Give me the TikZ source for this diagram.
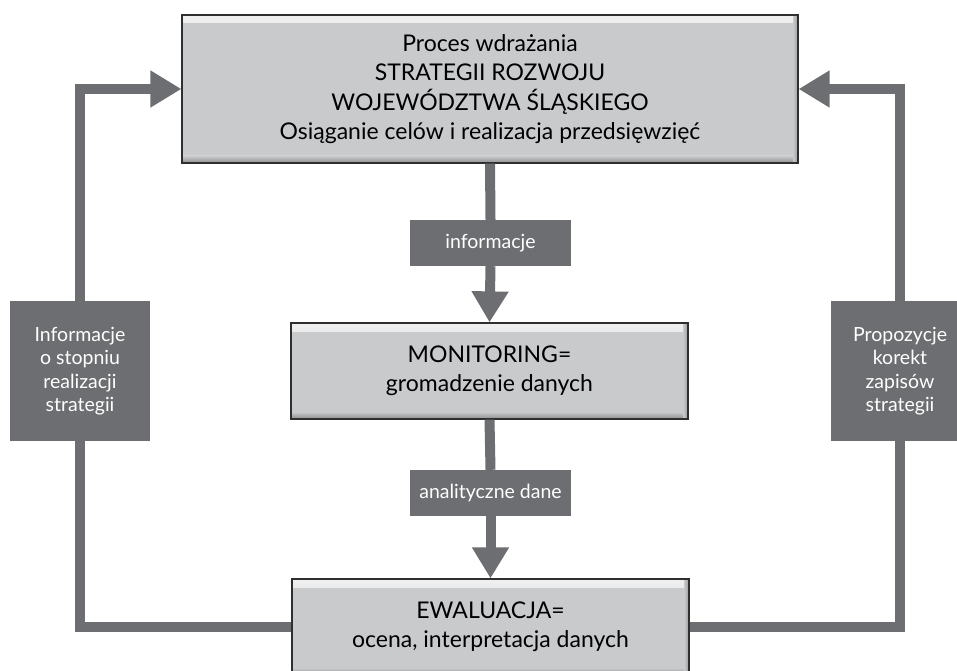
\documentclass[tikz,border=0pt]{standalone}
\usepackage{fontspec}
\setmainfont{Lato}
\usetikzlibrary{positioning,arrows.meta}
\definecolor{boxgray}{HTML}{C9CACC}
\definecolor{darkgray}{HTML}{6D6E71}
\definecolor{edgegray}{HTML}{2F2F30}
\tikzstyle{mainbox} = [rectangle, fill=boxgray, draw=edgegray, line width=1.2pt, align=center, inner sep=0pt, font=\fontsize{23}{29.5}\selectfont,
  path picture={
    \shade[top color=white!70!boxgray, bottom color=boxgray] (path picture bounding box.north west) rectangle ([yshift=-8pt]path picture bounding box.north east);
    \shade[top color=boxgray, bottom color=black!45] ([yshift=7pt]path picture bounding box.south west) rectangle (path picture bounding box.south east);
    \shade[left color=boxgray, right color=black!40] ([xshift=-5pt]path picture bounding box.north east) rectangle (path picture bounding box.south east);
  }]
\tikzstyle{tag} = [rectangle, fill=darkgray, text=white, align=center, inner sep=0pt, font=\fontsize{19.5}{23.5}\selectfont]
\tikzstyle{flow} = [draw=darkgray, line width=10pt]
\tikzstyle{flowarrow} = [flow, -{Triangle[width=35pt,length=31pt]}]

\begin{document}
\begin{tikzpicture}[x=1pt, y=1pt]
			\clip (0,0) rectangle (957,670);
			
			\node (top) [mainbox, minimum width=616pt, minimum height=148pt] at (490,581) {Proces wdrażania\\STRATEGII ROZWOJU\\WOJEWÓDZTWA ŚLĄSKIEGO\\Osiąganie celów i realizacja przedsięwzięć};
			\node (info) [tag, minimum width=161pt, minimum height=46pt] at (490.5,427) {informacje};
			\node (mon) [mainbox, minimum width=397pt, minimum height=96pt] at (489.5,299) {MONITORING=\\gromadzenie danych};
			\node (ana) [tag, minimum width=161pt, minimum height=46pt] at (490.5,177) {analityczne dane};
			\node (ewal) [mainbox, minimum width=397pt, minimum height=96pt] at (490.5,43) {EWALUACJA=\\ocena, interpretacja danych};
			
			\node (stan) [tag, minimum width=140pt, minimum height=140pt] at (80,299) {Informacje\\o stopniu\\realizacji\\strategii};
			\node (korekta) [tag, minimum width=139pt, minimum height=140pt] at (900,299) {Propozycje\\korekt\\zapisów\\strategii};
			
			\draw[flow] (top.south) -- (info.north);
			\draw[flowarrow] (info.south) -- (mon.north);
			\draw[flow] (mon.south) -- (ana.north);
			\draw[flowarrow] (ana.south) -- (ewal.north);
			
			\draw[flow] (ewal.west) -| (stan.south);
			\draw[flowarrow] (stan.north) |- (top.west);
			\draw[flow] (ewal.east) -| (korekta.south);
			\draw[flowarrow] (korekta.north) |- (top.east);
			
			\end{tikzpicture}
\end{document}
